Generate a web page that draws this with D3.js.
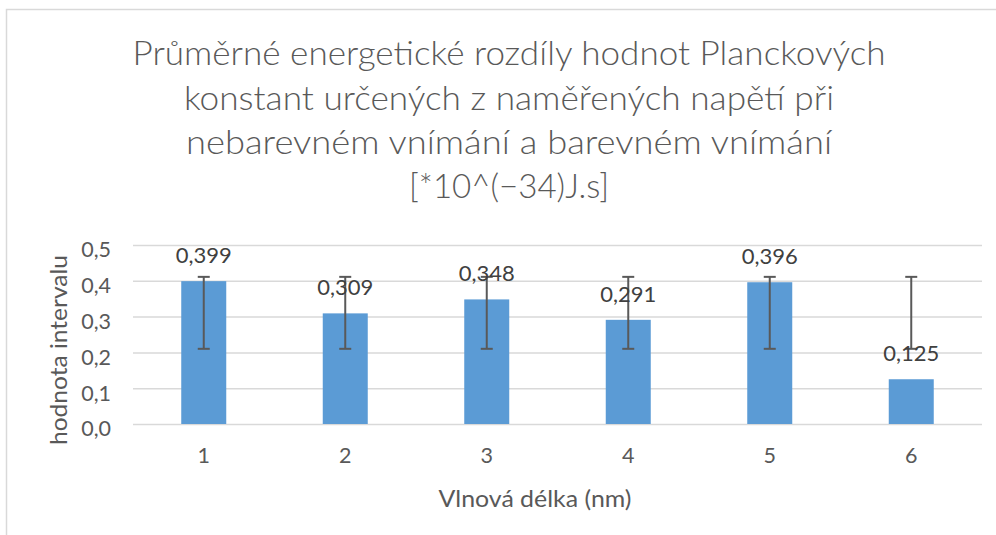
<!DOCTYPE html>
<html>
<head>
<meta charset="utf-8">
<script src="https://cdn.jsdelivr.net/npm/d3@7"></script>
<style>
  html, body { margin: 0; padding: 0; background: #fff; }
  svg { display: block; }
  text { font-family: Lato, "Open Sans", sans-serif; }
</style>
</head>
<body>
<svg id="chart" width="996" height="535"></svg>
<script>
// Chart data
const titleLines = [
  "Průměrné energetické rozdíly hodnot Planckových",
  "konstant určených z naměřených napětí při",
  "nebarevném vnímání a barevném vnímání",
  "[*10^(−34)J.s]"
];
const categories = ["1", "2", "3", "4", "5", "6"];
const values = [0.399, 0.309, 0.348, 0.291, 0.396, 0.125];
const errLow = [0.21, 0.21, 0.21, 0.21, 0.21, 0.21];
const errHigh = [0.411, 0.411, 0.411, 0.411, 0.411, 0.411];
const yTicks = [0, 0.1, 0.2, 0.3, 0.4, 0.5];
const xAxisTitle = "Vlnová délka (nm)";
const yAxisTitle = "hodnota intervalu";

const svg = d3.select("#chart");
const W = 996, H = 535;
const plot = { left: 133, right: 982, top: 245, bottom: 424 };

const fmt = v => d3.format(".1f")(v).replace(".", ",");
const fmtLabel = v => d3.format(".3f")(v).replace(".", ",");

// chart frame (runs past the right and bottom edges)
svg.append("rect")
  .attr("x", 6.5).attr("y", 9.5)
  .attr("width", W + 20).attr("height", H + 20)
  .attr("fill", "#fff").attr("stroke", "#d9d9d9").attr("stroke-width", 1.5);

const x = d3.scaleBand()
  .domain(categories)
  .range([plot.left, plot.right])
  .paddingInner(0.682)
  .paddingOuter(0.341);

const y = d3.scaleLinear()
  .domain([0, 0.5])
  .range([plot.bottom, plot.top]);

// Fit a text element to a target width
function fitWidth(sel, width) {
  sel.attr("textLength", width).attr("lengthAdjust", "spacingAndGlyphs");
}

// title, four centred lines
const title = svg.append("g").attr("fill", "#595959");
const titleBaselines = [65, 110, 154, 198];
const titleWidths = [753, 650, 646, 200];
titleLines.forEach((line, i) => {
  const t = title.append("text")
    .attr("x", 509)
    .attr("y", titleBaselines[i])
    .attr("text-anchor", "middle")
    .attr("font-size", 33)
    .attr("font-weight", 300)
    .text(line);
  fitWidth(t, titleWidths[i]);
});

// gridlines and y tick labels
const yAxis = d3.axisLeft(y)
  .tickValues(yTicks)
  .tickSize(-(plot.right - plot.left))
  .tickFormat(fmt)
  .tickPadding(22);

const gy = svg.append("g")
  .attr("transform", `translate(${plot.left},0)`)
  .call(yAxis);
gy.select(".domain").remove();
gy.selectAll(".tick line").attr("stroke", "#d9d9d9").attr("stroke-width", 1.5);
gy.selectAll(".tick text")
  .attr("fill", "#595959")
  .attr("font-size", 21.5)
  .attr("dy", "0.55em");

// bars
svg.append("g")
  .selectAll("rect")
  .data(values)
  .join("rect")
  .attr("x", (d, i) => x(categories[i]))
  .attr("y", d => y(d))
  .attr("width", x.bandwidth())
  .attr("height", d => y(0) - y(d))
  .attr("fill", "#5b9bd5");

// error bars
const eb = svg.append("g").attr("stroke", "#595959").attr("stroke-width", 2).attr("fill", "none");
categories.forEach((c, i) => {
  const cx = x(c) + x.bandwidth() / 2;
  const capW = 6;
  eb.append("line").attr("x1", cx).attr("x2", cx).attr("y1", y(errLow[i])).attr("y2", y(errHigh[i]));
  eb.append("line").attr("x1", cx - capW).attr("x2", cx + capW).attr("y1", y(errLow[i])).attr("y2", y(errLow[i]));
  eb.append("line").attr("x1", cx - capW).attr("x2", cx + capW).attr("y1", y(errHigh[i])).attr("y2", y(errHigh[i]));
});

// data labels
svg.append("g")
  .selectAll("text")
  .data(values)
  .join("text")
  .attr("x", (d, i) => x(categories[i]) + x.bandwidth() / 2)
  .attr("y", d => y(d) - 18)
  .attr("text-anchor", "middle")
  .attr("font-size", 22)
  .attr("fill", "#404040")
  .text(fmtLabel);

// x axis
const xAxis = d3.axisBottom(x).tickSize(0).tickPadding(24);
const gx = svg.append("g")
  .attr("transform", `translate(0,${plot.bottom})`)
  .call(xAxis);
gx.select(".domain").remove();
gx.selectAll(".tick text").attr("fill", "#595959").attr("font-size", 21.5);

// axis titles
const xt = svg.append("text")
  .attr("x", 535)
  .attr("y", 507)
  .attr("text-anchor", "middle")
  .attr("font-size", 23)
  .attr("fill", "#595959")
  .text(xAxisTitle);
fitWidth(xt, 193);

const yt = svg.append("text")
  .attr("transform", "translate(67,350) rotate(-90)")
  .attr("text-anchor", "middle")
  .attr("font-size", 23)
  .attr("fill", "#595959")
  .text(yAxisTitle);
fitWidth(yt, 190);
</script>
</body>
</html>
